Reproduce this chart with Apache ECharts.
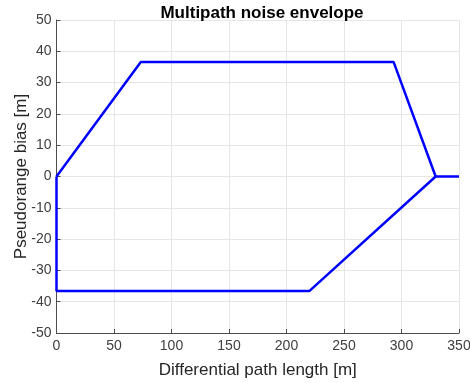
<!DOCTYPE html>
<html><head><meta charset="utf-8">
<script src="https://cdn.jsdelivr.net/npm/echarts@6/dist/echarts.min.js"></script>
<style>html,body{margin:0;padding:0;background:#fff}#c{width:470px;height:383px}</style>
</head><body><div id="c"></div>
<script>
const upperX = [0, 73.3, 293.1, 329.7, 350];
const upperY = [0, 36.6, 36.6, 0, 0];
const lowerX = [0, 0, 219.8, 329.7];
const lowerY = [0, -36.6, -36.6, 0];
const xTicks = [0, 50, 100, 150, 200, 250, 300, 350];
const yTicks = [-50, -40, -30, -20, -10, 0, 10, 20, 30, 40, 50];

const pair = (xs, ys) => xs.map((x, i) => [x, ys[i]]);
const font = 'Liberation Sans, Arial, Helvetica, sans-serif';
const chart = echarts.init(document.getElementById('c'));
chart.setOption({
  animation: false,
  title: {text: 'Multipath noise envelope', left: 257, top: 0, textAlign: 'center',
    textStyle: {fontFamily: font, fontSize: 17, fontWeight: 'bold', color: '#000'}},
  grid: {left: 56.5, right: 11, top: 20, bottom: 50, containLabel: false, outerBoundsMode: 'none'},
  xAxis: {type: 'value', min: xTicks[0], max: xTicks[xTicks.length - 1], interval: 50,
    name: 'Differential path length [m]', nameLocation: 'middle', nameGap: 29, nameMoveOverlap: false,
    nameTextStyle: {fontFamily: font, fontSize: 17, color: '#262626'},
    axisLine: {show: true, onZero: false, lineStyle: {color: '#4d4d4d', width: 1}},
    axisTick: {show: true, inside: true, length: 4, lineStyle: {color: '#4d4d4d'}},
    axisLabel: {fontFamily: font, fontSize: 14, color: '#404040', margin: 6},
    splitLine: {show: true, lineStyle: {color: '#e6e6e6', width: 1}}},
  yAxis: {type: 'value', min: yTicks[0], max: yTicks[yTicks.length - 1], interval: 10,
    name: 'Pseudorange bias [m]', nameLocation: 'middle', nameGap: 27, nameMoveOverlap: false,
    nameTextStyle: {fontFamily: font, fontSize: 17, color: '#262626'},
    axisLine: {show: true, onZero: false, lineStyle: {color: '#4d4d4d', width: 1}},
    axisTick: {show: true, inside: true, length: 4, lineStyle: {color: '#4d4d4d'}},
    axisLabel: {fontFamily: font, fontSize: 14, color: '#404040', margin: 5},
    splitLine: {show: true, lineStyle: {color: '#e6e6e6', width: 1}}},
  series: [
    {type: 'line', data: pair(upperX, upperY), showSymbol: false, symbol: 'none',
      lineStyle: {color: '#0000ff', width: 2.5}},
    {type: 'line', data: pair(lowerX, lowerY), showSymbol: false, symbol: 'none',
      lineStyle: {color: '#0000ff', width: 2.5}}
  ]
});
</script></body></html>
